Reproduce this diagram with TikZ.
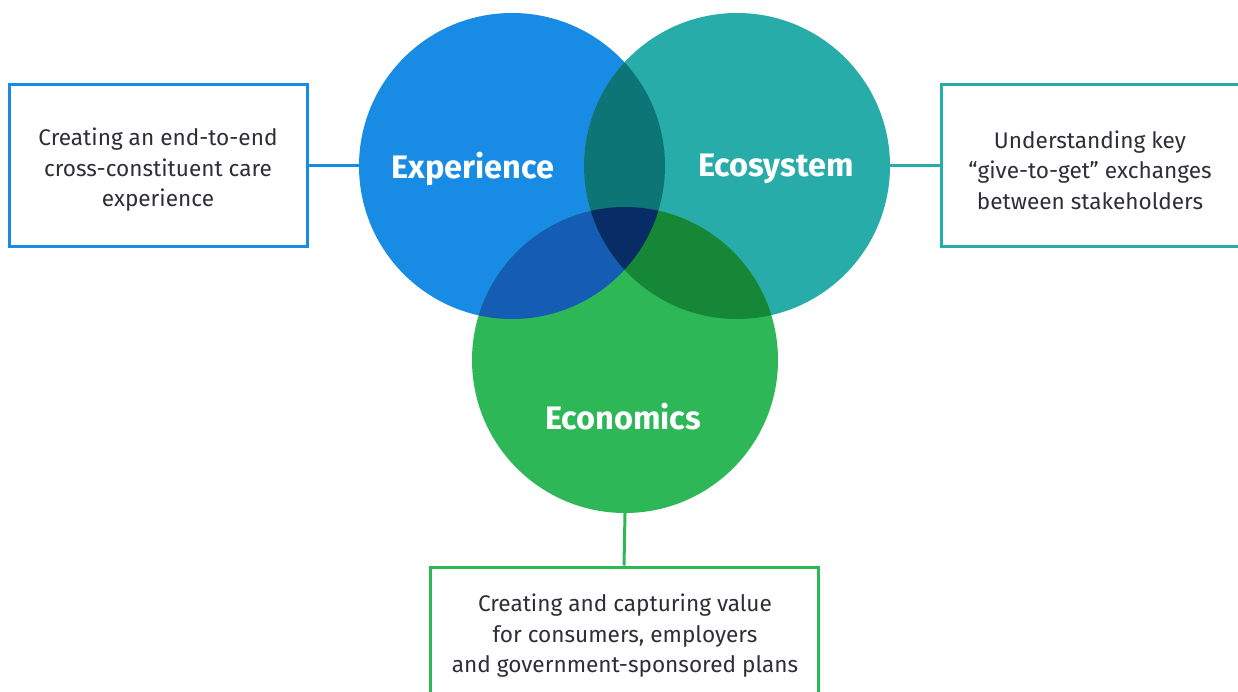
\documentclass[tikz,border=0pt]{standalone}
\usepackage{fontspec}
\setmainfont{Fira Sans}
\begin{document}
\definecolor{cblue}{HTML}{188CE5}
\definecolor{cteal}{HTML}{27ACAA}
\definecolor{cgreen}{HTML}{2DB757}
\definecolor{cbt}{HTML}{0D7575}
\definecolor{cbg}{HTML}{155CB4}
\definecolor{ctg}{HTML}{168736}
\definecolor{call}{HTML}{082C65}
\definecolor{ctext}{HTML}{2E2E38}
\begin{tikzpicture}[x=1pt,y=-1pt,
  disc/.style={circle,minimum size=306pt,inner sep=0pt},
  title/.style={text=white,inner sep=0pt,font=\bfseries\fontsize{32.5}{38}\selectfont},
  infobox/.style={draw,line width=3pt,fill=white},
  infotext/.style={text=ctext,align=center,inner sep=0pt,font=\fontsize{22.6}{30.5}\selectfont},
  link/.style={line width=3pt}]
\useasboundingbox (0,0) rectangle (1238,692);
% the three circles
\node[disc,fill=cblue] (expc) at (512,166) {};
\node[disc,fill=cteal] (ecoc) at (737,166) {};
\node[disc,fill=cgreen] (econc) at (625,360) {};
% pairwise overlaps
\begin{scope}
  \clip (expc.center) circle (153pt);
  \fill[cbt] (ecoc.center) circle (153pt);
  \fill[cbg] (econc.center) circle (153pt);
\end{scope}
\begin{scope}
  \clip (ecoc.center) circle (153pt);
  \fill[ctg] (econc.center) circle (153pt);
\end{scope}
% centre where all three meet
\begin{scope}
  \clip (expc.center) circle (153pt);
  \clip (ecoc.center) circle (153pt);
  \fill[call] (econc.center) circle (153pt);
\end{scope}
% circle titles
\node[title] (expt) at (473,169) {Experience};
\node[title] (ecot) at (776,169) {Ecosystem};
\node[title] (econt) at (623,417) {Economics};
% description boxes
\node[infobox,draw=cblue,minimum width=298pt,minimum height=162pt] (expb) at (158,166) {};
\node[infobox,draw=cteal,minimum width=298pt,minimum height=162pt] (ecob) at (1090,166) {};
\node[infobox,draw=cgreen,minimum width=388pt,minimum height=132pt] (econb) at (624,633) {};
\node[infotext] (expd) at (158,170)
  {Creating an end-to-end\\cross-constituent care\\experience};
\node[infotext] (ecod) at (1090,170)
  {Understanding key\\``give-to-get'' exchanges\\between stakeholders};
\node[infotext] (econd) at (625,636)
  {Creating and capturing value\\for consumers, employers\\and government-sponsored plans};
% connectors
\draw[link,cblue] (expb.east) -- (expc.west);
\draw[link,cteal] (ecoc.east) -- (ecob.west);
\draw[link,cgreen] (econc.south) -- (econb.north);
\end{tikzpicture}
\end{document}
